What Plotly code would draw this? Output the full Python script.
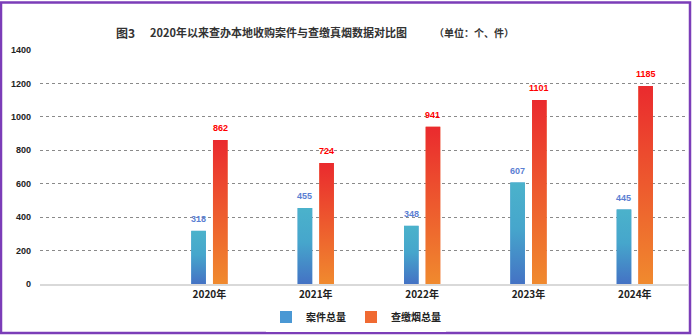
import plotly.graph_objects as go

categories = ["2020年", "2021年", "2022年", "2023年", "2024年"]
cases = [318, 455, 348, 607, 445]
cigs = [862, 724, 941, 1101, 1185]
series_names = ["案件总量", "查缴烟总量"]
y_ticks = [0, 200, 400, 600, 800, 1000, 1200, 1400]

W, H = 692, 336
ML, MR, MT, MB = 40, 4, 50, 52
pw = W - ML - MR
ph = H - MT - MB

def px_x(p):
    return (p - ML) / pw

def px_y(p):
    return 1 - (p - MT) / ph

bar_w = 0.137
off = 0.102
xs = [i + 1 for i in range(len(categories))]

grad_blue = [[0, "#4472C4"], [0.55, "#46A6CC"], [1, "#4BB2CB"]]
grad_red = [[0, "#F08A2E"], [1, "#EA2A2E"]]

fig = go.Figure()
series = [(cases, -off, "#4A98D4", grad_blue, "#5B7FD3"),
          (cigs, off, "#F06A32", grad_red, "#FF0000")]

for (vals, o, col, grad, lab_col), name in zip(series, series_names):
    fig.add_trace(go.Bar(x=[x + o for x in xs], y=vals, width=bar_w, name=f"<b>{name}</b>",
                         marker=dict(color=col, line=dict(width=0))))
for (vals, o, col, grad, lab_col), name in zip(series, series_names):
    for x, v in zip(xs, vals):
        x0, x1 = x + o - bar_w / 2, x + o + bar_w / 2
        fig.add_trace(go.Scatter(x=[x0, x0, x1, x1, x0], y=[0, v, v, 0, 0],
                                 mode="lines", line=dict(width=0), fill="toself",
                                 fillgradient=dict(type="vertical", colorscale=grad),
                                 showlegend=False, hoverinfo="skip"))
        fig.add_annotation(x=x + o, y=v, text=f"<b>{v}</b>", showarrow=False,
                           yshift=12, font=dict(size=9, color=lab_col, family="Liberation Sans"))

font_cjk = "Noto Sans CJK SC"
fig.add_annotation(xref="paper", yref="paper", x=px_x(114), y=px_y(32), xanchor="left",
                   yanchor="middle", showarrow=False, text="<b>图3</b>",
                   font=dict(size=12, color="#333333", family=font_cjk))
fig.add_annotation(xref="paper", yref="paper", x=px_x(148), y=px_y(32), xanchor="left",
                   yanchor="middle", showarrow=False,
                   text="<b>2020年以来查办本地收购案件与查缴真烟数据对比图</b>",
                   font=dict(size=11, color="#333333", family=font_cjk))
fig.add_annotation(xref="paper", yref="paper", x=px_x(432), y=px_y(32), xanchor="left",
                   yanchor="middle", showarrow=False, text="<b>（单位：个、件）</b>",
                   font=dict(size=10, color="#333333", family=font_cjk))

fig.add_shape(type="rect", xref="paper", yref="paper",
              x0=px_x(1), x1=px_x(690), y0=px_y(333), y1=px_y(2.5),
              line=dict(color="#7B3DB8", width=2.5), fillcolor="rgba(0,0,0,0)")

fig.update_layout(
    width=W, height=H, margin=dict(l=ML, r=MR, t=MT, b=MB),
    paper_bgcolor="white", plot_bgcolor="white", barmode="overlay",
    showlegend=True,
    legend=dict(orientation="h", x=px_x(356), xanchor="center", y=px_y(317), yanchor="middle",
                font=dict(size=10, color="#222222", family=font_cjk),
                itemwidth=30, tracegroupgap=0),
    hovermode=False,
)
fig.update_xaxes(range=[-0.593, 5.5], tickvals=xs, ticktext=[f"<b>{c}</b>" for c in categories],
                 showgrid=False, zeroline=False, showline=True, linecolor="#D9D9D9", linewidth=2,
                 ticks="", tickfont=dict(size=10, color="#222222", family=font_cjk))
fig.update_yaxes(range=[0, 1400], tickvals=y_ticks, ticktext=[f"<b>{t}</b>" for t in y_ticks],
                 showgrid=True, gridcolor="#8A8A8A", griddash="dot", gridwidth=1,
                 zeroline=False, showline=False, ticks="", ticklabelstandoff=8,
                 tickfont=dict(size=9, color="#222222", family="Liberation Sans"))

fig.write_html("out.html")
